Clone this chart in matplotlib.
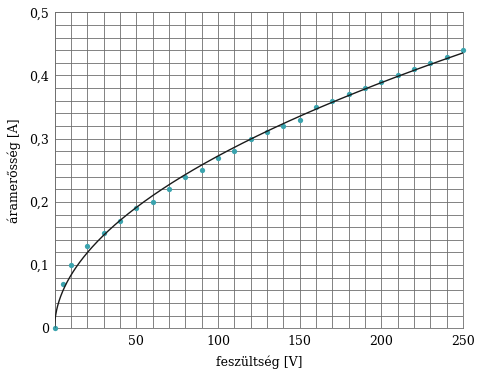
import numpy as np
import matplotlib
matplotlib.use('Agg')
import matplotlib.pyplot as plt
from matplotlib.ticker import MultipleLocator, FuncFormatter

# mért adatok
feszultseg = [0, 5, 10, 20, 30, 40, 50, 60, 70, 80, 90, 100, 110, 120, 130,
              140, 150, 160, 170, 180, 190, 200, 210, 220, 230, 240, 250]
aram = [0.0, 0.07, 0.10, 0.13, 0.15, 0.17, 0.19, 0.20, 0.22, 0.24, 0.25, 0.27,
        0.28, 0.30, 0.31, 0.32, 0.33, 0.35, 0.36, 0.37, 0.38, 0.39, 0.40,
        0.41, 0.42, 0.43, 0.44]

x_ticks = [50, 100, 150, 200, 250]
y_ticks = [0, 0.1, 0.2, 0.3, 0.4, 0.5]

plt.rcParams['font.family'] = ['DejaVu Serif']

U = np.array(feszultseg, dtype=float)
I = np.array(aram, dtype=float)

# hatványfüggvény illesztés I = a * U^b (legkisebb négyzetek, lineáris térben)
best = None
for b in np.linspace(0.3, 0.8, 501):
    ub = U ** b
    a = np.sum(I * ub) / np.sum(ub * ub)
    r = np.sum((I - a * ub) ** 2)
    if best is None or r < best[0]:
        best = (r, a, b)
_, a_fit, b_fit = best
u_fit = np.linspace(0, 250, 800)
i_fit = a_fit * u_fit ** b_fit

fig = plt.figure(figsize=(4.83, 3.78), dpi=100)
ax = fig.add_axes([0.113, 0.1315, 0.8456, 0.836])

ax.set_xlim(0, 250)
ax.set_ylim(0, 0.5)
ax.xaxis.set_minor_locator(MultipleLocator(10))
ax.yaxis.set_minor_locator(MultipleLocator(0.02))
ax.set_xticks(x_ticks)
ax.set_yticks(y_ticks)
ax.grid(True, which='both', color='#6e6e6e', lw=0.6)
ax.set_axisbelow(True)
ax.tick_params(which='both', length=0, labelsize=9)
ax.tick_params(axis='y', pad=4)
ax.tick_params(axis='x', pad=5)
ax.yaxis.set_major_formatter(FuncFormatter(lambda v, p: ('%.1f' % v).replace('.', ',') if v else '0'))
for s in ax.spines.values():
    s.set_color('#6e6e6e')
    s.set_linewidth(0.6)

ax.plot(U, I, 'o', color='#3aa3ae', ms=3.8, mec='none', clip_on=False, zorder=3)
ax.plot(u_fit, i_fit, color='#1a1a1a', lw=1.0, zorder=4)

ax.set_xlabel('feszültség [V]', fontsize=9, labelpad=5)
ax.set_ylabel('áramerősség [A]', fontsize=9, labelpad=6)

fig.savefig('out.png', dpi=100)
plt.close(fig)
